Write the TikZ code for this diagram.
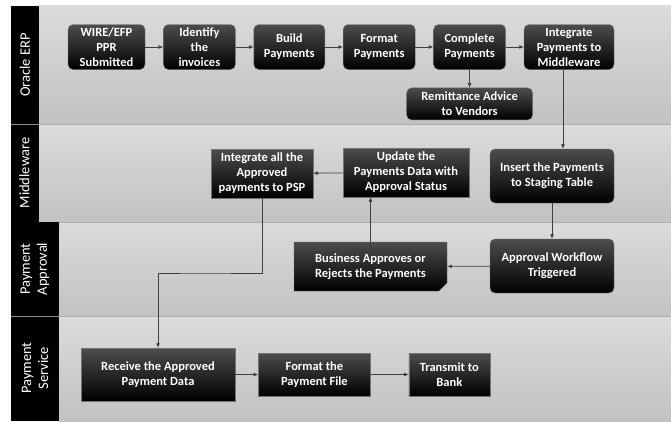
\documentclass[tikz,border=0pt]{standalone}
\usepackage{fontspec}
\setmainfont{Carlito}
\usetikzlibrary{arrows.meta,
                chains,
                positioning,
                shapes.misc}

\begin{document}
\begin{tikzpicture}[x=1pt, y=-1pt,
    node distance = 18pt and 18pt,
      start chain = A going right,
      base/.style = {draw=black!55, line width=0.4pt, text=white,
                     font=\bfseries\fontsize{12.5}{15}\selectfont,
                     align=center, inner sep=2pt,
                     top color=black!70, bottom color=black},
      rbox/.style = {base, rounded corners=5pt},
      sbox/.style = {base},
      cbox/.style = {base, chamfered rectangle,
                     chamfered rectangle corners=south east,
                     chamfered rectangle xsep=4pt, chamfered rectangle ysep=4pt},
    erpbox/.style = {rbox, minimum height=45pt, on chain=A},
      lane/.style = {top color=black!14, bottom color=black!24},
 lanelabel/.style = {text=white, font=\fontsize{14.5}{17}\selectfont,
                     rotate=90, align=center},
     arrow/.style = {draw=black!75, line width=0.8pt,
                     -{Latex[length=4.5pt,width=4pt]}}
                    ]
\useasboundingbox (0,0) rectangle (671,421);
% swim lanes
\path[lane] (39,5)   rectangle (671,124);
\path[lane] (39,124) rectangle (671,222);
\path[lane] (59,222) rectangle (671,316);
\path[lane] (59,316) rectangle (671,421);
\draw[black!32] (39,124) -- (671,124) (39,222) -- (671,222) (59,316) -- (671,316);
\fill[black] (11,6) rectangle (39,222);
\fill[black] (11,222) rectangle (59,421);
\draw[black!45] (11,124) -- (39,124) (11,316) -- (59,316);
\node [lanelabel] (erp)  at (25,65)    {Oracle ERP};
\node [lanelabel] (mid)  at (24.5,173) {Middleware};
\node [lanelabel] (appr) at (35,269)   {Payment\\Approval};
\node [lanelabel] (serv) at (35,368)   {Payment\\Service};
% Oracle ERP
\node [erpbox, minimum width=77pt] at (106.5,47) {WIRE/EFP\\PPR\\Submitted};  % <-- A-1
\node [erpbox, minimum width=72pt] {Identify\\the\\invoices};
\node [erpbox, minimum width=71pt] {Build\\Payments};
\node [erpbox, minimum width=72pt] {Format\\Payments};
\node [erpbox, minimum width=72pt] {Complete\\Payments};
\node [erpbox, minimum width=90pt] {Integrate\\Payments to\\Middleware};
\node [rbox, below=of A-5, minimum width=126pt, minimum height=32pt] (remit)
      {Remittance Advice\\to Vendors};
% Middleware
\node [rbox, minimum width=124pt, minimum height=54pt] (stage) at (552,176)
      {Insert the Payments\\to Staging Table};
\node [sbox, minimum width=126pt, minimum height=49pt] (update) at (406,172.5)
      {Update the\\Payments Data with\\Approval Status};
\node [sbox, minimum width=102pt, minimum height=49pt] (psp) at (262,173.5)
      {Integrate all the\\Approved\\payments to PSP};
% Payment Approval
\node [rbox, minimum width=124pt, minimum height=54pt] (trigger) at (552,266)
      {Approval Workflow\\Triggered};
\node [cbox, minimum width=153pt, minimum height=49pt] (approve) at (370.5,266.5)
      {Business Approves or\\Rejects the Payments};
% Payment Service
\node [sbox, minimum width=154pt, minimum height=53pt] (receive) at (158,374.5)
      {Receive the Approved\\Payment Data};
\node [sbox, right=23pt of receive, minimum width=112pt, minimum height=43pt] (payfile)
      {Format the\\Payment File};
\node [sbox, right=38pt of payfile, minimum width=81pt, minimum height=43pt] (bank)
      {Transmit to\\Bank};
%%
\coordinate (drop) at ([xshift=-6pt]A-6.south);
\coordinate (bend) at (200,273);
\draw [arrow]
    (A-1) edge (A-2)
    (A-2) edge (A-3)
    (A-3) edge (A-4)
    (A-4) edge (A-5)
    (A-5) edge (A-6)
    (A-5) edge (remit)
    (drop) edge (drop |- stage.north)
    (stage) edge (trigger)
    (trigger) edge (approve)
    (approve.north) edge (approve.north |- update.south)
    (update) edge (psp)
    (receive) edge (payfile)
    (payfile) edge (bank);
\draw [arrow] (psp.south) |- (bend) -| (receive.north);
\end{tikzpicture}
\end{document}
